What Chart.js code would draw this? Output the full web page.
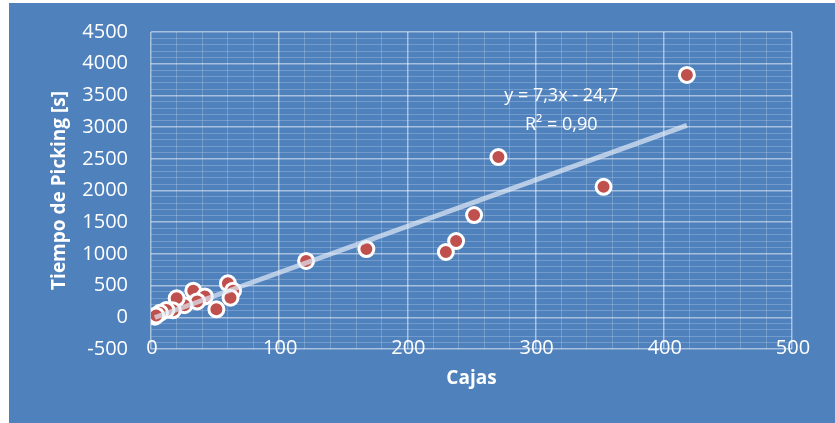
<!DOCTYPE html>
<html>
<head>
<meta charset="utf-8">
<script src="https://cdn.jsdelivr.net/npm/chart.js@4/dist/chart.umd.min.js"></script>
<style>
  html, body { margin: 0; padding: 0; background: #ffffff; }
  #box { position: absolute; left: 9px; top: 3px; width: 826px; height: 420px; background: #4f81bd; }
</style>
</head>
<body>
<div id="box"><canvas id="grafico" width="826" height="420"></canvas></div>
<script>
// datos
var cajas  = [418, 353, 271, 252, 238, 230, 168, 121, 60, 64, 62, 51, 33, 42, 36, 26, 20, 17, 12, 7, 3, 4];
var tiempo = [3822, 2058, 2528, 1613, 1203, 1030, 1077, 889, 536, 420, 310, 126, 420, 330, 250, 190, 300, 110, 115, 70, 10, 30];
var etiquetasX = [0, 100, 200, 300, 400, 500];

// linea de tendencia (Excel)
var pendiente = 7.3;
var intercepto = -24.7;
var ecuacion = ["y = 7,3x - 24,7", "R² = 0,90"];

var xMin = Math.min.apply(null, cajas);
var xMax = Math.max.apply(null, cajas);
var puntos = cajas.map(function(c, i) { return {x: c, y: tiempo[i]}; });
var tendencia = [
    {x: xMin, y: pendiente * xMin + intercepto},
    {x: xMax, y: pendiente * xMax + intercepto}
];

var gridMayor = 'rgba(255,255,255,0.5)';
var gridMenor = 'rgba(255,255,255,0.2)';

var textos = {
    id: 'textos',
    afterDraw: function(chart) {
        var ctx = chart.ctx;
        var xs = chart.scales.x, ys = chart.scales.y;
        ctx.save();
        ctx.fillStyle = '#ffffff';
        ctx.textAlign = 'center';
        ctx.textBaseline = 'middle';
        // etiquetas del eje x (Excel las pone sobre la linea de -500)
        ctx.font = '20px "Open Sans"';
        etiquetasX.forEach(function(v) {
            ctx.fillText(String(v), xs.getPixelForValue(v) + 1, chart.chartArea.bottom - 1);
        });
        ctx.font = '18px "Open Sans"';
        ctx.fillText(ecuacion[0], xs.getPixelForValue(320), ys.getPixelForValue(3490));
        ctx.fillText(ecuacion[1], xs.getPixelForValue(320), ys.getPixelForValue(3030));
        ctx.restore();
    }
};

var ctx = document.getElementById("grafico");
var grafico = new Chart(ctx, {
    type: 'scatter',
    data: {
        datasets: [{
            type: 'line',
            data: tendencia,
            borderColor: 'rgba(225,234,245,0.7)',
            borderWidth: 5,
            pointRadius: 0,
            fill: false
        }, {
            data: puntos,
            backgroundColor: '#c0504d',
            borderColor: '#ffffff',
            borderWidth: 3,
            pointRadius: 7.5,
            pointHoverRadius: 7.5
        }]
    },
    plugins: [textos],
    options: {
        responsive: false,
        animation: false,
        layout: { padding: { top: 29, right: 43, left: 0, bottom: 0 } },
        plugins: { legend: { display: false }, tooltip: { enabled: false } },
        scales: {
            x: {
                type: 'linear',
                min: 0, max: 500,
                afterFit: function(s) { s.height = 74; },
                ticks: {
                    stepSize: 20,
                    autoSkip: false,
                    maxRotation: 0,
                    color: 'rgba(0,0,0,0)',
                    callback: function() { return ''; }
                },
                grid: {
                    drawTicks: false,
                    color: function(c) { return c.tick && c.tick.value % 100 === 0 ? gridMayor : gridMenor; },
                    lineWidth: function(c) { return c.tick && c.tick.value % 100 === 0 ? 1.5 : 1; }
                },
                border: { display: false },
                title: {
                    display: true,
                    text: 'Cajas',
                    color: '#ffffff',
                    font: { family: 'Open Sans', size: 19, weight: 'bold' },
                    padding: { top: 0, bottom: 33 }
                }
            },
            y: {
                min: -500, max: 4500,
                afterFit: function(s) { s.width = 142; s.paddingTop = 0; s.paddingBottom = 0; },
                ticks: {
                    stepSize: 100,
                    autoSkip: false,
                    padding: 23,
                    color: '#ffffff',
                    font: { family: 'Open Sans', size: 20 },
                    callback: function(v) { return v % 500 === 0 ? v : ''; }
                },
                grid: {
                    drawTicks: false,
                    color: function(c) { return c.tick && c.tick.value % 500 === 0 ? gridMayor : gridMenor; },
                    lineWidth: function(c) { return c.tick && c.tick.value % 500 === 0 ? 1.5 : 1; }
                },
                border: { display: false },
                title: {
                    display: true,
                    text: 'Tiempo de Picking [s]',
                    color: '#ffffff',
                    font: { family: 'Open Sans', size: 19, weight: 'bold' },
                    padding: { top: 39, bottom: 0 }
                }
            }
        }
    }
});
</script>
</body>
</html>
